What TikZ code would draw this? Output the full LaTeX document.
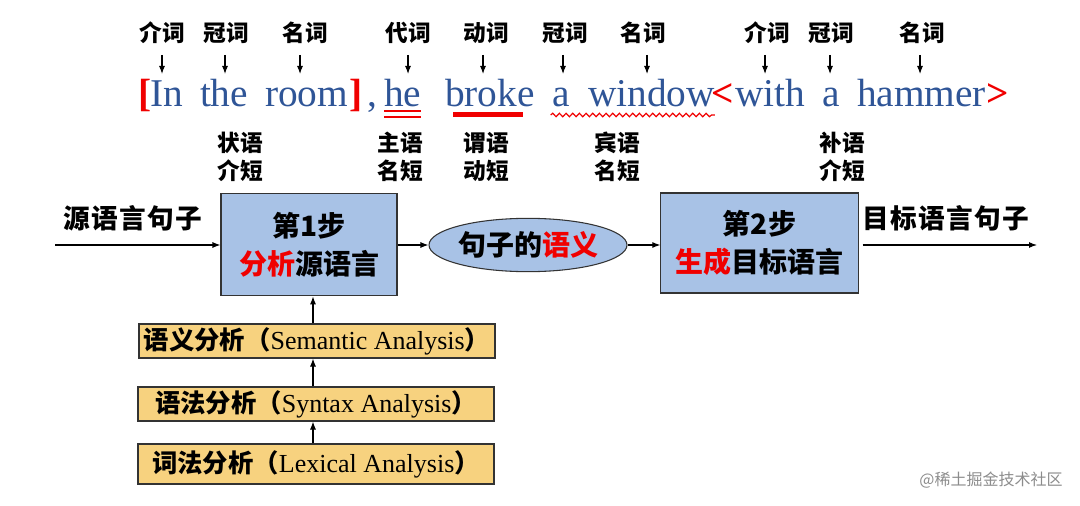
\documentclass[tikz,border=0pt]{standalone}
\usepackage{fontspec}
\setmainfont{Liberation Serif}
\newfontfamily\cjk{Noto Sans CJK SC}
\usetikzlibrary{decorations.pathmorphing,shapes.geometric,arrows.meta}
\definecolor{wblue}{RGB}{47,85,151}
\definecolor{boxblue}{RGB}{168,194,230}
\definecolor{boxyel}{RGB}{247,210,127}
\definecolor{myred}{RGB}{240,0,0}
\begin{document}
\begin{tikzpicture}[x=0.75pt,y=-0.75pt,
  arr/.style={-{Latex[length=6pt,width=4.5pt]},line width=0.8pt},
  toplbl/.style={font=\cjk\bfseries\fontsize{17}{20}\selectfont,inner sep=0pt},
  rolelbl/.style={font=\cjk\bfseries\fontsize{17}{21}\selectfont,align=center,inner sep=0pt},
  word/.style={font=\fontsize{29.5}{32}\selectfont,text=wblue,anchor=base west,inner sep=0pt,outer sep=0pt},
  brk/.style={font=\bfseries\fontsize{29.5}{32}\selectfont,text=myred,anchor=base west,inner sep=0pt,outer sep=0pt},
  bluebox/.style={draw=black!80,line width=0.8pt,fill=boxblue,align=center,inner sep=0pt,font=\cjk\bfseries\fontsize{21}{28.5}\selectfont},
  yelbox/.style={draw=black!80,line width=0.8pt,fill=boxyel,inner sep=0pt,minimum width=267pt,font=\fontsize{19.5}{22}\selectfont},
  cj/.style={},
  ul/.style={myred,line width=1.8pt}
]
\useasboundingbox (0,0) rectangle (1080,506);

% top part-of-speech labels
\node[toplbl] (p1) at (162,33) {介词};
\node[toplbl] (p2) at (226,33) {冠词};
\node[toplbl] (p3) at (305,33) {名词};
\node[toplbl] (p4) at (408,33) {代词};
\node[toplbl] (p5) at (486,33) {动词};
\node[toplbl] (p6) at (565,33) {冠词};
\node[toplbl] (p7) at (643,33) {名词};
\node[toplbl] (p8) at (767,33) {介词};
\node[toplbl] (p9) at (831,33) {冠词};
\node[toplbl] (p10) at (922,33) {名词};

% sentence words
\node[brk]  (b1) at (138,107) {[};
\node[word] (w1) at (150,107) {In};
\node[word] (w2) at (200,107) {the};
\node[word] (w3) at (265,107) {room};
\node[brk]  (b2) at (349,107) {]};
\node[word] (w4) at (367,107) {,};
\node[word] (w5) at (384,107) {he};
\node[word] (w6) at (445,107) {broke};
\node[word] (w7) at (552,107) {a};
\node[word] (w8) at (588,107) {window};
\node[brk]  (b3) at (711,107) {<};
\node[word] (w9) at (735,107) {with};
\node[word] (w10) at (822,107) {a};
\node[word] (w11) at (857,107) {hammer};
\node[brk]  (b4) at (986,107) {>};

% arrows label -> word
\foreach \p/\x in {p1/162,p2/225,p3/300,p4/408,p5/483,p6/563,p7/647,p8/765,p9/830,p10/920}{
  \draw[arr] (\x,55) -- (\x,74);
}

% underlines
\draw[ul] ([yshift=-3pt]w5.base west) -- ([yshift=-3pt]w5.base east);
\draw[ul] ([yshift=-7.5pt]w5.base west) -- ([yshift=-7.5pt]w5.base east);
\draw[myred,line width=3.5pt] ([xshift=6pt,yshift=-5.5pt]w6.base west) -- ([xshift=-9pt,yshift=-5.5pt]w6.base east);
\draw[myred,line width=0.9pt,decorate,decoration={snake,amplitude=1.3pt,segment length=5pt}]
  ([xshift=-1pt,yshift=-6pt]w7.base west) -- ([yshift=-6pt]w8.base east);

% role labels
\node[rolelbl] (r1) at (240,157) {状语\\介短};
\node[rolelbl] (r2) at (400,157) {主语\\名短};
\node[rolelbl] (r3) at (486,157) {谓语\\动短};
\node[rolelbl] (r4) at (617,157) {宾语\\名短};
\node[rolelbl] (r5) at (842,157) {补语\\介短};

% main flow
\node[bluebox,minimum width=132pt,minimum height=77pt] (s1) at (309,244.5)
  {第\textbf{1}步\\{\color{myred}分析}源语言};
\node[ellipse,draw=black!80,line width=0.8pt,fill=boxblue,minimum width=144pt,minimum height=40pt,inner sep=0pt,
  font=\cjk\bfseries\fontsize{21}{24}\selectfont] (sem) at (528,245) {句子的{\color{myred}语义}};
\node[bluebox,minimum width=148pt,minimum height=75pt] (s2) at (759.5,243)
  {第\textbf{2}步\\{\color{myred}生成}目标语言};

\coordinate (in) at (55,245);
\coordinate (out) at (1037,245);
\node[font=\cjk\bfseries\fontsize{20}{24}\selectfont,inner sep=0pt] (srcl) at (133,218) {源\kern1pt语\kern1pt言\kern1pt句\kern1pt子};
\node[font=\cjk\bfseries\fontsize{20}{24}\selectfont,inner sep=0pt] (tgtl) at (946,218) {目\kern1pt标\kern1pt语\kern1pt言\kern1pt句\kern1pt子};

\draw[arr] (in) -- (in -| s1.west);
\draw[arr] (s1.east |- sem) -- (sem.west);
\draw[arr] (sem.east) -- (sem.east -| s2.west);
\draw[arr] ([xshift=3pt]s2.east |- out) -- (out);

% analysis stack
\node[yelbox,minimum height=25.5pt] (a1) at (317,341) {{\cjk\bfseries\fontsize{19}{22}\selectfont 语义分析（}Semantic Analysis{\cjk\bfseries\fontsize{19}{22}\selectfont ）}};
\node[yelbox,minimum height=25.5pt] (a2) at (316,404) {{\cjk\bfseries\fontsize{19}{22}\selectfont 语法分析（}Syntax Analysis{\cjk\bfseries\fontsize{19}{22}\selectfont ）}};
\node[yelbox,minimum height=30pt] (a3) at (316,464) {{\cjk\bfseries\fontsize{19}{22}\selectfont 词法分析（}Lexical Analysis{\cjk\bfseries\fontsize{19}{22}\selectfont ）}};

\draw[arr] (a1.north -| 313,0) -- (s1.south -| 313,0);
\draw[arr] (a2.north -| 313,0) -- (a1.south -| 313,0);
\draw[arr] (a3.north -| 313,0) -- (a2.south -| 313,0);

% watermark
\node[text=black!45,font=\cjk\fontsize{12}{14}\selectfont,inner sep=0pt] (wm) at (991,480) {@稀土掘金技术社区};
\end{tikzpicture}
\end{document}
